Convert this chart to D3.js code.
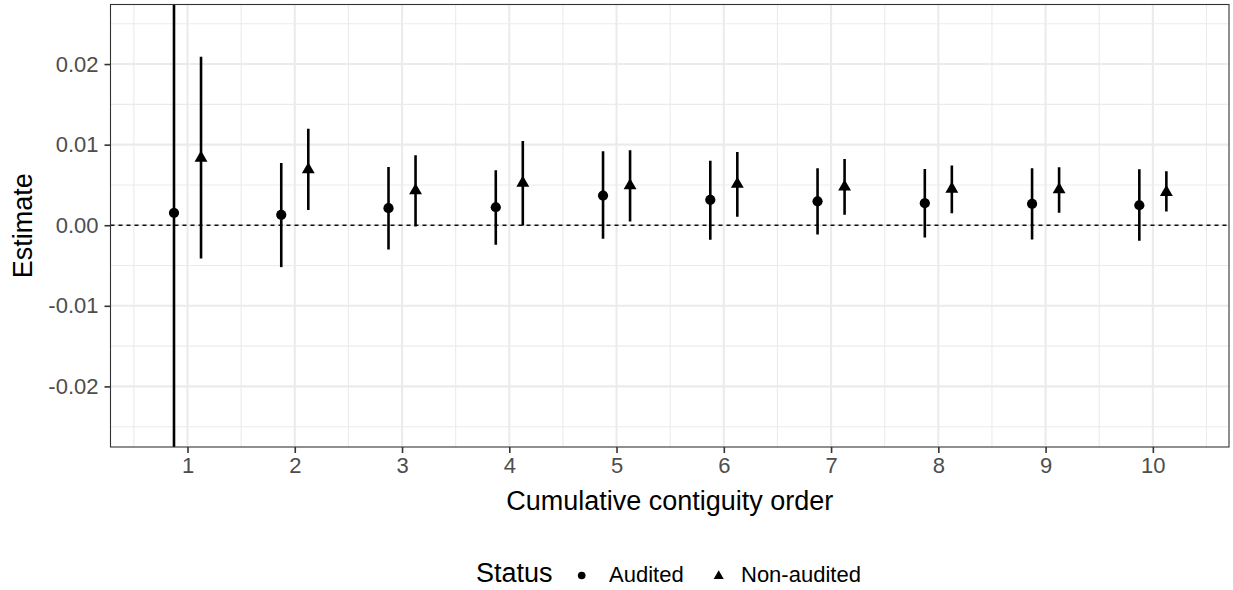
<!DOCTYPE html>
<html>
<head>
<meta charset="utf-8">
<script src="https://cdn.jsdelivr.net/npm/d3@7"></script>
<style>
  body { margin: 0; background: #fff; }
  text { font-family: "Liberation Sans", Arial, sans-serif; }
</style>
</head>
<body>
<div id="main"></div>
<script>
// contiguity orders
const orders = [1, 2, 3, 4, 5, 6, 7, 8, 9, 10];

// Audited series
const auditedEst   = [0.00154, 0.00129, 0.00211, 0.00223, 0.00368, 0.00315, 0.00297, 0.00273, 0.00265, 0.00248];
const auditedLow   = [-0.07, -0.0052, -0.0030, -0.00243, -0.00169, -0.0018, -0.00115, -0.00152, -0.00177, -0.00193];
const auditedHigh  = [0.07, 0.00773, 0.00724, 0.00682, 0.00917, 0.0080, 0.00706, 0.00699, 0.00706, 0.00694];

// Non-audited series
const nonAuditedEst  = [0.00835, 0.0069, 0.0043, 0.00525, 0.00492, 0.0051, 0.00476, 0.0045, 0.00442, 0.0041];
const nonAuditedLow  = [-0.00413, 0.0019, -0.00016, -0.00004, 0.00046, 0.00104, 0.00129, 0.00149, 0.00154, 0.0017];
const nonAuditedHigh = [0.0209, 0.01198, 0.00867, 0.01046, 0.0093, 0.0091, 0.00823, 0.0074, 0.00719, 0.0067];

const yTicks = [-0.02, -0.01, 0.00, 0.01, 0.02];
const yMinor = [-0.025, -0.015, -0.005, 0.005, 0.015, 0.025];
const xMinor = [0.5, 1.5, 2.5, 3.5, 4.5, 5.5, 6.5, 7.5, 8.5, 9.5, 10.5];
const statusNames = ["Audited", "Non-audited"];

const w = 1233, h = 590;
const pLeft = 110.5, pRight = 1229, pTop = 4.5, pBottom = 447;
const dodge = 0.126;

const svg = d3.select("#main").append("svg")
  .attr("width", w).attr("height", h);

const xScale = d3.scaleLinear().domain([0.282, 10.71]).range([pLeft, pRight]);
const yScale = d3.scaleLinear().domain([-0.02752, 0.02739]).range([pBottom, pTop]);

svg.append("clipPath").attr("id", "panel")
  .append("rect").attr("x", pLeft).attr("y", pTop)
  .attr("width", pRight - pLeft).attr("height", pBottom - pTop);

// grid
const grid = svg.append("g");
grid.selectAll(".ymin").data(yMinor).enter().append("line")
  .attr("x1", pLeft).attr("x2", pRight)
  .attr("y1", d => yScale(d)).attr("y2", d => yScale(d))
  .attr("stroke", "#ebebeb").attr("stroke-width", 1.1);
grid.selectAll(".xmin").data(xMinor).enter().append("line")
  .attr("y1", pTop).attr("y2", pBottom)
  .attr("x1", d => xScale(d)).attr("x2", d => xScale(d))
  .attr("stroke", "#ebebeb").attr("stroke-width", 1.1);
grid.selectAll(".ymaj").data(yTicks).enter().append("line")
  .attr("x1", pLeft).attr("x2", pRight)
  .attr("y1", d => yScale(d)).attr("y2", d => yScale(d))
  .attr("stroke", "#ebebeb").attr("stroke-width", 2.1);
grid.selectAll(".xmaj").data(orders).enter().append("line")
  .attr("y1", pTop).attr("y2", pBottom)
  .attr("x1", d => xScale(d)).attr("x2", d => xScale(d))
  .attr("stroke", "#ebebeb").attr("stroke-width", 2.1);

// zero line
svg.append("line")
  .attr("x1", pLeft).attr("x2", pRight)
  .attr("y1", yScale(0)).attr("y2", yScale(0))
  .attr("stroke", "#111").attr("stroke-width", 1.3)
  .attr("stroke-dasharray", "4,4");

const rows = orders.map((o, i) => [
  { x: o - dodge, est: auditedEst[i], lo: auditedLow[i], hi: auditedHigh[i], s: 0 },
  { x: o + dodge, est: nonAuditedEst[i], lo: nonAuditedLow[i], hi: nonAuditedHigh[i], s: 1 }
]).flat();

const marks = svg.append("g").attr("clip-path", "url(#panel)");

marks.selectAll(".bar").data(rows).enter().append("line")
  .attr("x1", d => xScale(d.x)).attr("x2", d => xScale(d.x))
  .attr("y1", d => yScale(d.lo)).attr("y2", d => yScale(d.hi))
  .attr("stroke", "#000").attr("stroke-width", 2.6);

const circle = d3.symbol().type(d3.symbolCircle).size(82);
const tri = d3.symbol().type(d3.symbolTriangle).size(72);

marks.selectAll(".pt").data(rows).enter().append("path")
  .attr("transform", d => "translate(" + xScale(d.x) + "," + yScale(d.est) + ")")
  .attr("d", d => d.s === 0 ? circle() : tri())
  .attr("fill", "#000");

// panel border
svg.append("rect")
  .attr("x", pLeft).attr("y", pTop)
  .attr("width", pRight - pLeft).attr("height", pBottom - pTop)
  .attr("fill", "none").attr("stroke", "#333").attr("stroke-width", 1.1);

// axes
const fmtY = d => d3.format(".2f")(d).replace("\u2212", "-");
const yAxis = d3.axisLeft(yScale).tickValues(yTicks)
  .tickFormat(fmtY).tickSize(6).tickPadding(6);
const xAxis = d3.axisBottom(xScale).tickValues(orders)
  .tickFormat(d3.format("d")).tickSize(6).tickPadding(4);

const gy = svg.append("g").attr("transform", "translate(" + pLeft + ",0)").call(yAxis);
const gx = svg.append("g").attr("transform", "translate(0," + pBottom + ")").call(xAxis);
[gy, gx].forEach(g => {
  g.select(".domain").remove();
  g.selectAll(".tick line").attr("stroke", "#333").attr("stroke-width", 1.6);
  g.selectAll(".tick text").attr("fill", "#4d4d4d")
    .style("font-size", "22px").style("font-family", "Liberation Sans, Arial, sans-serif");
});

// axis titles
svg.append("text")
  .attr("x", (pLeft + pRight) / 2).attr("y", 510)
  .attr("text-anchor", "middle")
  .style("font-size", "27px")
  .text("Cumulative contiguity order");

svg.append("text")
  .attr("transform", "translate(32," + ((pTop + pBottom) / 2) + ") rotate(-90)")
  .attr("text-anchor", "middle")
  .style("font-size", "27px")
  .text("Estimate");

// legend
const leg = svg.append("g");
leg.append("text").attr("x", 476).attr("y", 582)
  .style("font-size", "27px").text("Status");
leg.append("path")
  .attr("transform", "translate(581.7,575.5)")
  .attr("d", d3.symbol().type(d3.symbolCircle).size(46)()).attr("fill", "#000");
leg.append("text").attr("x", 609).attr("y", 582)
  .style("font-size", "22px").text(statusNames[0]);
leg.append("path")
  .attr("transform", "translate(718.7,576)")
  .attr("d", d3.symbol().type(d3.symbolTriangle).size(44)()).attr("fill", "#000");
leg.append("text").attr("x", 741).attr("y", 582)
  .style("font-size", "22px").text(statusNames[1]);
</script>
</body>
</html>
